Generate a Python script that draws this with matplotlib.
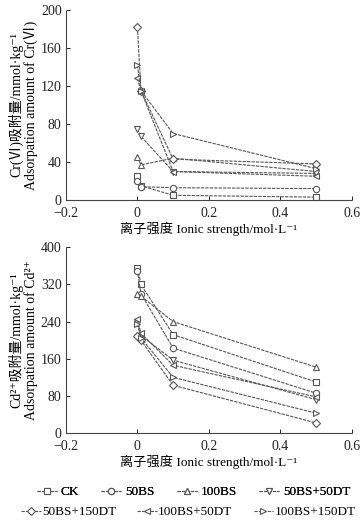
import matplotlib
matplotlib.use("Agg")
import matplotlib.pyplot as plt
from matplotlib.lines import Line2D

plt.rcParams['font.family'] = ['Liberation Serif', 'Noto Sans CJK SC', 'DejaVu Serif']

ionic = [0, 0.01, 0.1, 0.5]
series_names = ["CK", "50BS", "100BS", "50BS+50DT", "50BS+150DT", "100BS+50DT", "100BS+150DT"]
markers = ["s", "o", "^", "v", "D", "<", ">"]
msizes = [4.5, 4.5, 4.5, 4.5, 3.8, 4.5, 4.5]

cr_CK = [25, 15, 5, 3]
cr_50BS = [20, 14, 13, 12]
cr_100BS = [45, 37, 44, 30]
cr_50BS_50DT = [75, 67, 30, 28]
cr_50BS_150DT = [182, 115, 43, 38]
cr_100BS_50DT = [128, 115, 30, 25]
cr_100BS_150DT = [142, 115, 70, 33]

cd_CK = [355, 320, 212, 110]
cd_50BS = [350, 300, 183, 86]
cd_100BS = [300, 295, 240, 142]
cd_50BS_50DT = [240, 210, 157, 72]
cd_50BS_150DT = [210, 200, 103, 22]
cd_100BS_50DT = [245, 215, 146, 78]
cd_100BS_150DT = [235, 205, 120, 43]

cr_data = [cr_CK, cr_50BS, cr_100BS, cr_50BS_50DT, cr_50BS_150DT, cr_100BS_50DT, cr_100BS_150DT]
cd_data = [cd_CK, cd_50BS, cd_100BS, cd_50BS_50DT, cd_50BS_150DT, cd_100BS_50DT, cd_100BS_150DT]

col = "#555555"
fig = plt.figure(figsize=(3.62, 5.25), dpi=100)
ax1 = fig.add_axes([0.182, 0.619, 0.790, 0.362])
ax2 = fig.add_axes([0.182, 0.175, 0.790, 0.354])

def style(ax, ymax, ystep):
    ax.set_xlim(-0.2, 0.6)
    ax.set_ylim(0, ymax)
    ax.set_xticks([-0.2, 0, 0.2, 0.4, 0.6])
    ax.set_xticklabels(["\u22120.2", "0", "0.2", "0.4", "0.6"])
    ax.set_yticks(list(range(0, ymax + 1, ystep)))
    for s in ["top", "right"]:
        ax.spines[s].set_visible(False)
    for s in ["left", "bottom"]:
        ax.spines[s].set_color("#444444")
        ax.spines[s].set_linewidth(0.8)
        ax.spines[s].set_linestyle((0, (2, 1)))
    ax.tick_params(direction="in", length=3, width=0.7, colors="#222222", labelsize=10)
    ax.tick_params(axis="x", pad=5)
    ax.tick_params(axis="y", pad=3)
    ax.set_xlabel("离子强度 Ionic strength/mol\u00b7L\u207b\u00b9", fontsize=9.5, labelpad=1)

for ax, data in [(ax1, cr_data), (ax2, cd_data)]:
    for vals, m, ms in zip(data, markers, msizes):
        ax.plot(ionic, vals, linestyle=(0, (3, 1)), color=col, linewidth=0.8,
                marker=m, markersize=ms, markerfacecolor="white", markeredgecolor=col,
                markeredgewidth=0.8, clip_on=False)

style(ax1, 200, 40)
style(ax2, 400, 80)
ax1.set_ylabel("Cr(\u2165)吸附量/mmol\u00b7kg\u207b\u00b9\nAdsorpation amount of Cr(\u2165)", fontsize=10, labelpad=2, linespacing=1.05)
ax2.set_ylabel("Cd\u00b2\u207a吸附量/mmol\u00b7kg\u207b\u00b9\nAdsorpation amount of Cd\u00b2\u207a", fontsize=10, labelpad=2, linespacing=1.05)

handles = [Line2D([], [], linestyle=(0, (3, 1)), color=col, linewidth=0.8, marker=m, markersize=ms,
                  markerfacecolor="white", markeredgecolor=col, markeredgewidth=0.8)
           for m, ms in zip(markers, msizes)]

leg1 = fig.legend(handles[:4], series_names[:4], loc="center", bbox_to_anchor=(0.535, 1 - 492 / 525),
                  ncol=4, frameon=False, fontsize=9.5, handlelength=1.5, handletextpad=0.3, columnspacing=1.7,
                  borderaxespad=0, borderpad=0)
fig.add_artist(leg1)
leg2 = fig.legend(handles[4:], series_names[4:], loc="center", bbox_to_anchor=(0.52, 1 - 512 / 525),
                  ncol=3, frameon=False, fontsize=9.5, handlelength=1.5, handletextpad=0.1, columnspacing=1.6,
                  borderaxespad=0, borderpad=0)

fig.savefig("out.png", dpi=100)
